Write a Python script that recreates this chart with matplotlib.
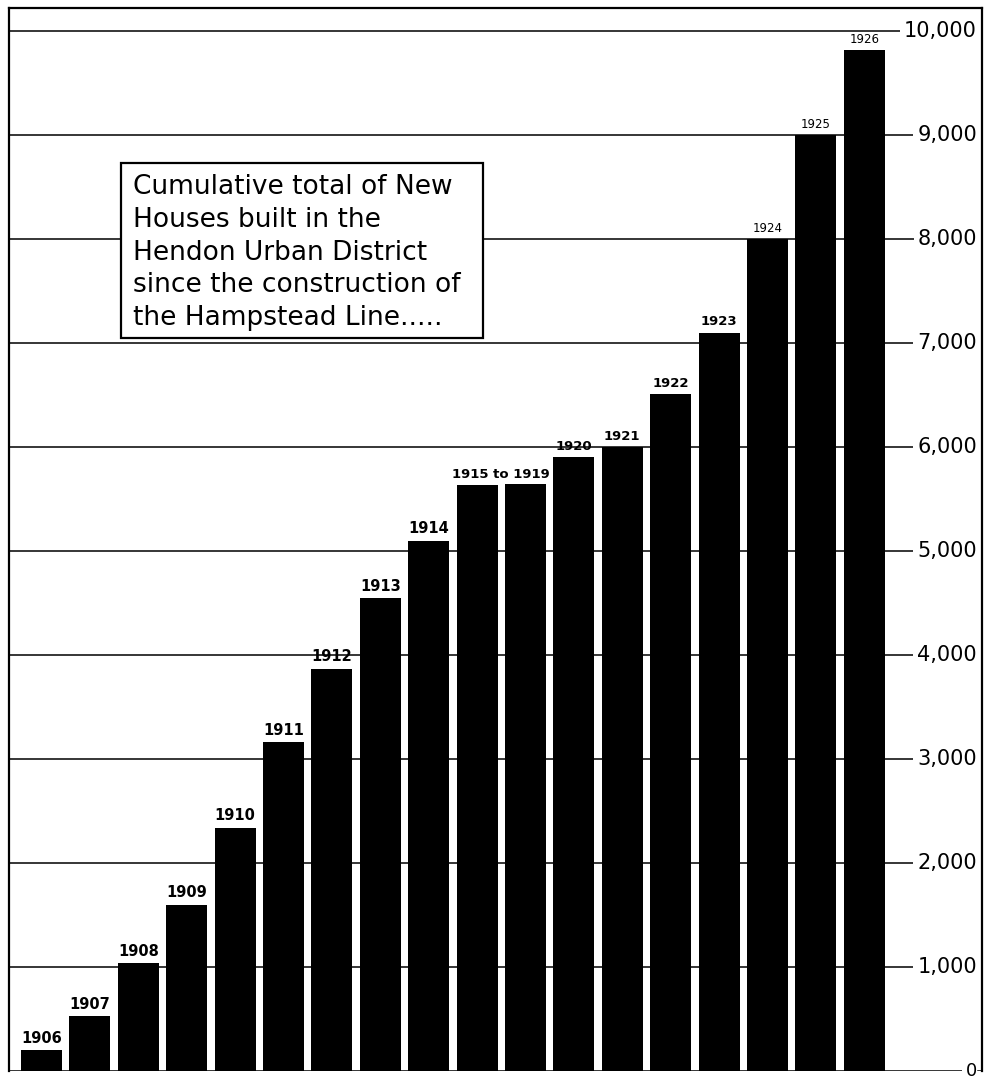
import matplotlib
matplotlib.use("Agg")
import matplotlib.pyplot as plt
from matplotlib.patches import Rectangle

# ---- data ----
years = ["1906", "1907", "1908", "1909", "1910", "1911", "1912", "1913", "1914",
         "1915", "1919", "1920", "1921", "1922", "1923", "1924", "1925", "1926"]
houses = [200, 525, 1040, 1600, 2340, 3165, 3870, 4550, 5100,
          5635, 5640, 5905, 6000, 6510, 7100, 8000, 9000, 9820]
bar_labels = ["1906", "1907", "1908", "1909", "1910", "1911", "1912", "1913", "1914",
              "1915 to 1919", "", "1920", "1921", "1922", "1923", "1924", "1925", "1926"]
tick_values = [0, 1000, 2000, 3000, 4000, 5000, 6000, 7000, 8000, 9000, 10000]
tick_labels = ["0", "1,000", "2,000", "3,000", "4,000", "5,000",
               "6,000", "7,000", "8,000", "9,000", "10,000"]
box_lines = ["Cumulative total of New",
             "Houses built in the",
             "Hendon Urban District",
             "since the construction of",
             "the Hampstead Line....."]

W, H = 985, 1082
plt.rcParams["font.family"] = ["DejaVu Sans"]
fig = plt.figure(figsize=(W / 100, H / 100), dpi=100)
fig.patch.set_facecolor("white")

# axes frame in pixel layout
L, R, T, B = 9, 982, 8, 1071
ax = fig.add_axes([L / W, 1 - B / H, (R - L) / W, (B - T) / H])
pitch, c0 = 48.4, 41.5
xmin, xmax = (L - c0) / pitch, (R - c0) / pitch
ppu = (B - 31) / 10000.0          # pixels per house
ymax = 10000 + (31 - T) / ppu
ax.set_xlim(xmin, xmax)
ax.set_ylim(0, ymax)
ax.set_xticks([])
ax.set_yticks([])
for s in ["left", "top", "right"]:
    ax.spines[s].set_linewidth(1.6)
ax.spines["bottom"].set_visible(False)

x = list(range(len(years)))
ax.bar(x, houses, width=0.85, color="black", zorder=3)

# year labels above bars
for i, (lab, h) in enumerate(zip(bar_labels, houses)):
    if not lab:
        continue
    xi = i + 0.5 if " to " in lab else i
    if i < 9:
        fs, fw = 10.5, "bold"
    elif i < 15:
        fs, fw = 9.5, "semibold"
    else:
        fs, fw = 8.5, "normal"
    ax.annotate(lab, (xi, h), xytext=(0, 3), textcoords="offset points",
                ha="center", va="bottom", fontsize=fs, fontweight=fw, zorder=4)

# right-hand value labels and grid lines ending just before each label
fig.canvas.draw()
rend = fig.canvas.get_renderer()
label_right = (977 - c0) / pitch
for v, lab in zip(tick_values, tick_labels):
    fs = 13 if v == 0 else 15
    t = ax.text(label_right, v, lab, ha="right", va="center", fontsize=fs, zorder=4)
    bb = t.get_window_extent(rend)
    x_left = ax.transData.inverted().transform((bb.x0 - 4, 0))[0]
    ax.plot([xmin, x_left], [v, v], color="black", lw=1.1, zorder=1,
            solid_capstyle="butt")
    if v == 0:
        x_right = ax.transData.inverted().transform((bb.x1 + 1, 0))[0]
        ax.plot([x_right, xmax], [v, v], color="black", lw=1.1, zorder=1)

# caption box
bx0, by0, bx1, by1 = 121, 163, 483, 338
fig.patches.append(Rectangle((bx0 / W, 1 - by1 / H), (bx1 - bx0) / W, (by1 - by0) / H,
                             transform=fig.transFigure, facecolor="white",
                             edgecolor="black", lw=1.6, zorder=5))
baselines = [194, 227, 260, 292, 325]
for line, yb in zip(box_lines, baselines):
    fig.text(133 / W, 1 - yb / H, line, ha="left", va="baseline",
             fontsize=19, zorder=6)

fig.savefig("out.png", dpi=100, facecolor="white")
